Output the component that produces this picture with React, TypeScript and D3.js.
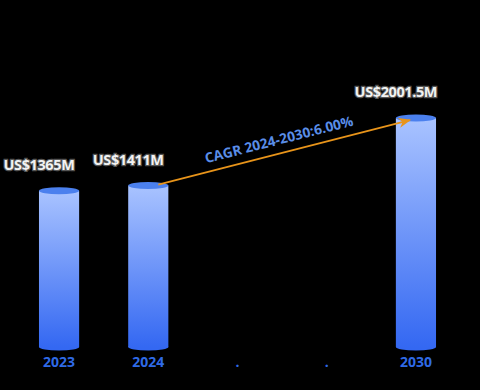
import React from 'react';
import * as d3 from 'd3';

const categories = ['2023', '2024', '.', '..', '2030'];
const values: (number | null)[] = [1365, 1411, null, null, 2001.5];
const valueLabels = ['US$1365M', 'US$1411M', '', '', 'US$2001.5M'];
const cagrText = 'CAGR 2024-2030:6.00%';

const width = 480;
const height = 390;

export default function App() {
  const x = d3.scaleBand<string>()
    .domain(categories)
    .range([14, 461])
    .paddingInner(0.55)
    .paddingOuter(0.28);

  const y = d3.scaleLinear().domain([0, 2500]).range([347, 61]);

  const bw = x.bandwidth();
  const ry = 3.5;

  // arrow from 2024 top to 2030 top
  const x1 = x('2024')! + bw / 2 + 10;
  const y1 = y(values[1]!) - 1;
  const x2 = x('2030')! + bw / 2 - 6;
  const y2 = y(values[4]!) + 2;
  const angle = Math.atan2(y2 - y1, x2 - x1) * 180 / Math.PI;
  const mx = (x1 + x2) / 2 - 4;
  const my = (y1 + y2) / 2 - 8;

  return (
    <svg width={width} height={height} style={{ position: 'absolute', left: 0, top: 0, background: '#000' }}
      fontFamily="'Open Sans', 'Noto Sans', sans-serif">
      <defs>
        <linearGradient id="barGrad" x1="0" y1="0" x2="0" y2="1">
          <stop offset="0%" stopColor="#a9c3ff" />
          <stop offset="100%" stopColor="#3468f2" />
        </linearGradient>
        <marker id="arrowHead" viewBox="0 0 10 10" refX="9" refY="5" markerWidth="7" markerHeight="7" orient="auto">
          <path d="M0,1 L10,5 L0,9 L3,5 Z" fill="#e8941a" />
        </marker>
      </defs>
      <rect width={width} height={height} fill="#000" />
      {categories.map((c, i) => {
        const v = values[i];
        if (v == null) return null;
        const bx = x(c)!;
        const cx = bx + bw / 2;
        const top = y(v);
        const bottom = y(0);
        return (
          <g key={c}>
            <ellipse cx={cx} cy={bottom} rx={bw / 2} ry={ry} fill="#3468f2" />
            <rect x={bx} y={top} width={bw} height={bottom - top} fill="url(#barGrad)" />
            <ellipse cx={cx} cy={top} rx={bw / 2} ry={ry} fill="#4b80ee" />
            <text x={bx} y={top - 21} textAnchor="middle" fontSize={14.5} fontWeight="bold"
              fill="#f2f2f2" stroke="#555" strokeWidth={2.5} paintOrder="stroke" letterSpacing={-0.4}>
              {valueLabels[i]}
            </text>
          </g>
        );
      })}
      <line x1={x1} y1={y1} x2={x2} y2={y2} stroke="#e8941a" strokeWidth={1.8} markerEnd="url(#arrowHead)" />
      <text x={mx} y={my} textAnchor="middle" fontSize={13.8} fontWeight="bold" fill="#5a8ee8"
        transform={`rotate(${angle} ${mx} ${my})`}>
        {cagrText}
      </text>
      {categories.map((c) => (
        <text key={c} x={x(c)! + bw / 2} y={367} textAnchor="middle" fontSize={14} fontWeight="bold" fill="#2f6ae6">
          {c.startsWith('.') ? '.' : c}
        </text>
      ))}
    </svg>
  );
}
